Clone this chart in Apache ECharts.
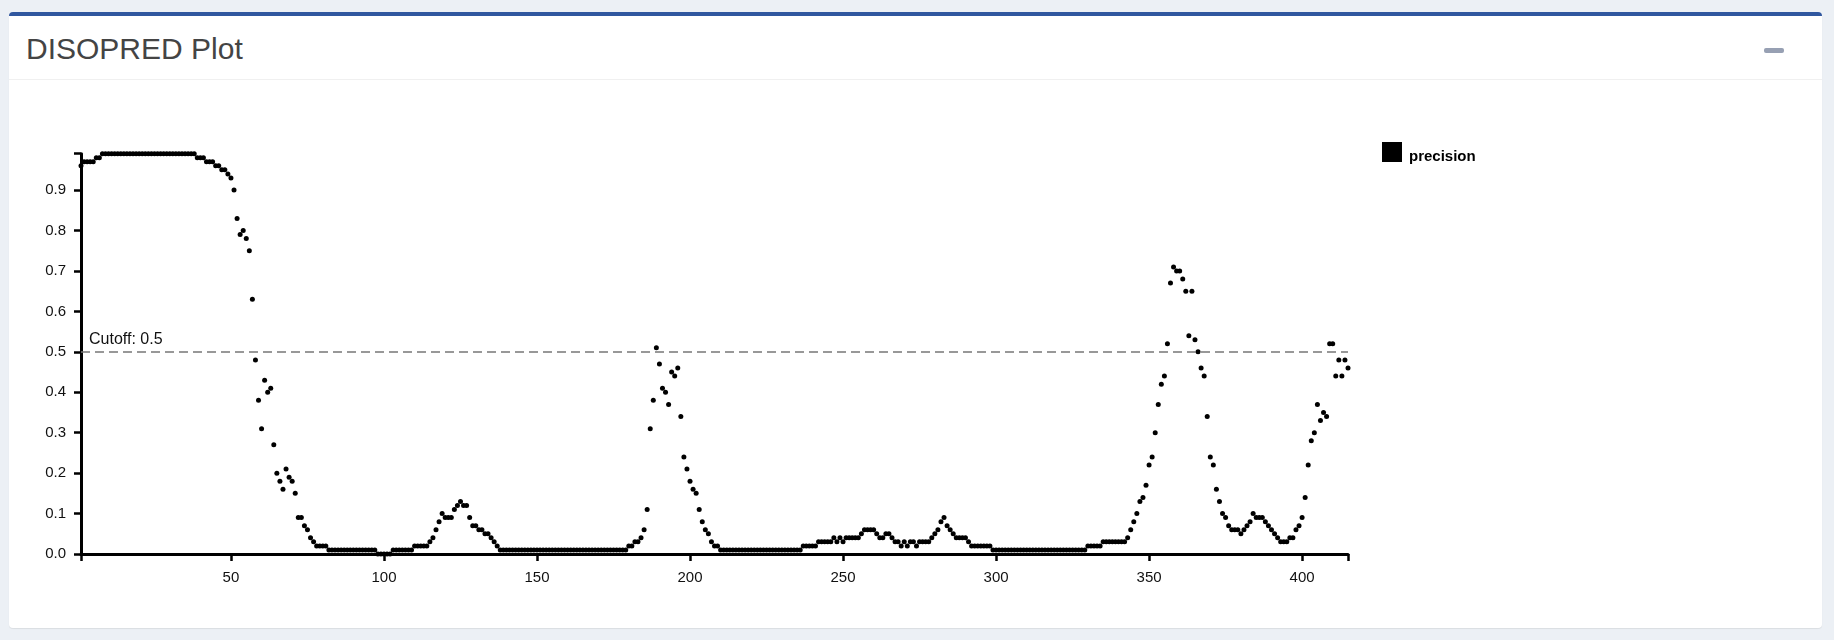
<!DOCTYPE html>
<html>
<head>
<meta charset="utf-8">
<script src="https://cdn.jsdelivr.net/npm/echarts@6/dist/echarts.min.js"></script>
<style>
  html, body { margin: 0; padding: 0; width: 1834px; height: 640px; background: #ecf0f5; overflow: hidden; font-family: "Liberation Sans", Arial, sans-serif; }
  #panel { position: absolute; left: 9px; top: 12px; width: 1813px; height: 616px; background: #fff; border-top: 4px solid #30579f; border-radius: 4px; box-sizing: border-box; box-shadow: 0 1px 1px rgba(0,0,0,0.08); }
  #title { position: absolute; left: 26px; top: 30px; font-size: 30px; color: #444; line-height: 38px; }
  #sep { position: absolute; left: 9px; top: 79px; width: 1813px; height: 1px; background: #f0f0f0; }
  #minus { position: absolute; left: 1764px; top: 48px; width: 20px; height: 5px; border-radius: 2px; background: #97a0b3; }
  #chart { position: absolute; left: 0; top: 0; width: 1834px; height: 640px; }
</style>
</head>
<body>
<div id="panel"></div>
<div id="title">DISOPRED Plot</div>
<div id="sep"></div>
<div id="minus"></div>
<div id="chart"></div>
<script>
// DISOPRED disorder precision per residue (residue numbers start at 1)
const precision001to100 = [
  0.96,0.97,0.97,0.97,0.97,0.98,0.98,0.99,0.99,0.99,
  0.99,0.99,0.99,0.99,0.99,0.99,0.99,0.99,0.99,0.99,
  0.99,0.99,0.99,0.99,0.99,0.99,0.99,0.99,0.99,0.99,
  0.99,0.99,0.99,0.99,0.99,0.99,0.99,0.99,0.98,0.98,
  0.98,0.97,0.97,0.97,0.96,0.96,0.95,0.95,0.94,0.93,
  0.90,0.83,0.79,0.80,0.78,0.75,0.63,0.48,0.38,0.31,
  0.43,0.40,0.41,0.27,0.20,0.18,0.16,0.21,0.19,0.18,
  0.15,0.09,0.09,0.07,0.06,0.04,0.03,0.02,0.02,0.02,
  0.02,0.01,0.01,0.01,0.01,0.01,0.01,0.01,0.01,0.01,
  0.01,0.01,0.01,0.01,0.01,0.01,0.01,0.00,0.00,0.00
];
const precision101to200 = [
  0.00,0.00,0.01,0.01,0.01,0.01,0.01,0.01,0.01,0.02,
  0.02,0.02,0.02,0.02,0.03,0.04,0.06,0.08,0.10,0.09,
  0.09,0.09,0.11,0.12,0.13,0.12,0.12,0.09,0.07,0.07,
  0.06,0.06,0.05,0.05,0.04,0.03,0.02,0.01,0.01,0.01,
  0.01,0.01,0.01,0.01,0.01,0.01,0.01,0.01,0.01,0.01,
  0.01,0.01,0.01,0.01,0.01,0.01,0.01,0.01,0.01,0.01,
  0.01,0.01,0.01,0.01,0.01,0.01,0.01,0.01,0.01,0.01,
  0.01,0.01,0.01,0.01,0.01,0.01,0.01,0.01,0.01,0.02,
  0.02,0.03,0.03,0.04,0.06,0.11,0.31,0.38,0.51,0.47,
  0.41,0.40,0.37,0.45,0.44,0.46,0.34,0.24,0.21,0.18
];
const precision201to300 = [
  0.16,0.15,0.11,0.08,0.06,0.05,0.03,0.02,0.02,0.01,
  0.01,0.01,0.01,0.01,0.01,0.01,0.01,0.01,0.01,0.01,
  0.01,0.01,0.01,0.01,0.01,0.01,0.01,0.01,0.01,0.01,
  0.01,0.01,0.01,0.01,0.01,0.01,0.02,0.02,0.02,0.02,
  0.02,0.03,0.03,0.03,0.03,0.03,0.04,0.03,0.04,0.03,
  0.04,0.04,0.04,0.04,0.04,0.05,0.06,0.06,0.06,0.06,
  0.05,0.04,0.04,0.05,0.05,0.04,0.03,0.03,0.02,0.03,
  0.02,0.03,0.03,0.02,0.03,0.03,0.03,0.03,0.04,0.05,
  0.06,0.08,0.09,0.07,0.06,0.05,0.04,0.04,0.04,0.04,
  0.03,0.02,0.02,0.02,0.02,0.02,0.02,0.02,0.01,0.01
];
const precision301to415 = [
  0.01,0.01,0.01,0.01,0.01,0.01,0.01,0.01,0.01,0.01,
  0.01,0.01,0.01,0.01,0.01,0.01,0.01,0.01,0.01,0.01,
  0.01,0.01,0.01,0.01,0.01,0.01,0.01,0.01,0.01,0.02,
  0.02,0.02,0.02,0.02,0.03,0.03,0.03,0.03,0.03,0.03,
  0.03,0.03,0.04,0.06,0.08,0.10,0.13,0.14,0.17,0.22,
  0.24,0.30,0.37,0.42,0.44,0.52,0.67,0.71,0.70,0.70,
  0.68,0.65,0.54,0.65,0.53,0.50,0.46,0.44,0.34,0.24,
  0.22,0.16,0.13,0.10,0.09,0.07,0.06,0.06,0.06,0.05,
  0.06,0.07,0.08,0.10,0.09,0.09,0.09,0.08,0.07,0.06,
  0.05,0.04,0.03,0.03,0.03,0.04,0.04,0.06,0.07,0.09,
  0.14,0.22,0.28,0.30,0.37,0.33,0.35,0.34,0.52,0.52,
  0.44,0.48,0.44,0.48,0.46
];
const xTickLabels = [50, 100, 150, 200, 250, 300, 350, 400];
const yTickLabels = [0, 0.1, 0.2, 0.3, 0.4, 0.5, 0.6, 0.7, 0.8, 0.9];
const cutoff = 0.5;
const seriesName = 'precision';

const precision = [].concat(precision001to100, precision101to200, precision201to300, precision301to415);
const firstResidue = 1;
const lastResidue = precision.length;
const yMax = Math.max.apply(null, precision);
const points = precision.map((v, i) => [i + firstResidue, v]);

const chart = echarts.init(document.getElementById('chart'), null, { renderer: 'canvas' });
const font = '"Liberation Sans", Arial, sans-serif';
chart.setOption({
  animation: false,
  backgroundColor: 'transparent',
  grid: { left: 81, right: 486, top: 153.7, bottom: 86, containLabel: false },
  legend: {
    data: [seriesName],
    left: 1382, top: 142,
    padding: 0,
    orient: 'vertical',
    icon: 'rect', itemWidth: 20, itemHeight: 20, itemGap: 6,
    itemStyle: { color: '#000', opacity: 1, borderWidth: 0 },
    formatter: name => '{t|' + name + '}',
    textStyle: {
      fontFamily: font, fontSize: 15, fontWeight: 'bold', color: '#000',
      rich: { t: { fontFamily: font, fontSize: 15, fontWeight: 'bold', color: '#000', padding: [9, 0, 0, 2] } }
    }
  },
  xAxis: {
    type: 'value', min: firstResidue, max: lastResidue,
    axisLine: { show: true, lineStyle: { color: '#000', width: 3 } },
    axisTick: { show: true, length: 7, lineStyle: { color: '#000', width: 2.5 },
      customValues: [firstResidue].concat(xTickLabels, [lastResidue]) },
    axisLabel: { customValues: xTickLabels, color: '#111', fontFamily: font, fontSize: 15, margin: 16 },
    splitLine: { show: false }
  },
  yAxis: {
    type: 'value', min: 0, max: yMax,
    axisLine: { show: true, lineStyle: { color: '#000', width: 3 } },
    axisTick: { show: true, length: 7, lineStyle: { color: '#000', width: 2.5 },
      customValues: yTickLabels.concat([yMax]) },
    axisLabel: { customValues: yTickLabels, color: '#111', fontFamily: font, fontSize: 15, margin: 15,
      formatter: v => v.toFixed(1) },
    splitLine: { show: false }
  },
  series: [{
    name: seriesName,
    type: 'scatter',
    data: points,
    symbol: 'circle',
    symbolSize: 5,
    itemStyle: { color: '#000', opacity: 1 },
    markLine: {
      silent: true,
      symbol: ['none', 'none'],
      lineStyle: { color: '#777', width: 1.5, type: [9, 5], opacity: 1 },
      label: { show: true, position: 'insideStartTop', formatter: 'Cutoff: ' + cutoff,
        color: '#111', fontFamily: font, fontSize: 16, distance: [8, 4] },
      data: [{ yAxis: cutoff }]
    }
  }]
});
</script>
</body>
</html>
